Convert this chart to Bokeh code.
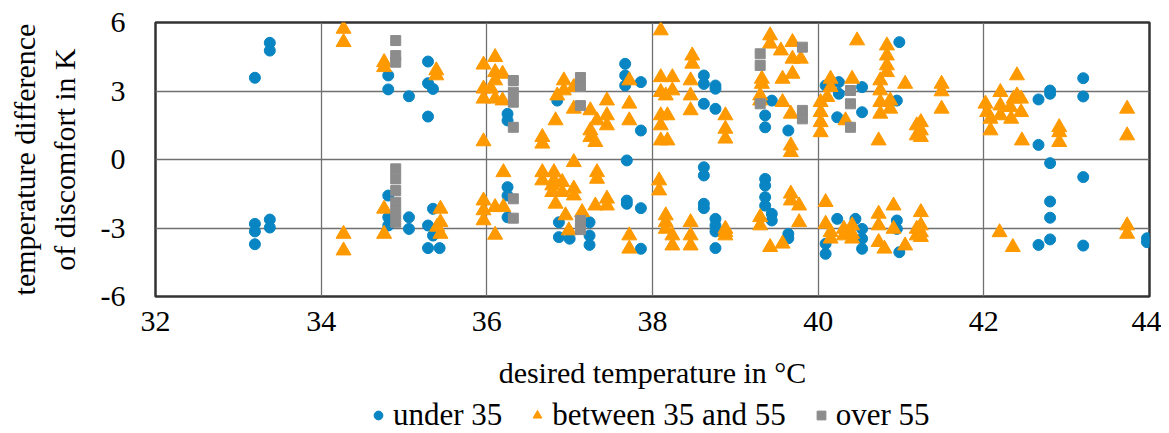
from bokeh.plotting import figure
from bokeh.layouts import column
from bokeh.models import FixedTicker, Legend, LegendItem, Range1d
from bokeh.embed import file_html
from bokeh.resources import INLINE

# ---------------- data ----------------
x_under = [33.38, 33.38, 33.2, 33.2, 33.2, 33.2, 33.38, 33.38,
           34.81, 34.81, 35.06, 35.29, 35.29, 35.35, 35.29,
           34.81, 34.81, 34.81, 35.06, 35.06, 35.29, 35.35, 35.29, 35.43, 35.35,
           36.25, 36.25, 36.25, 36.25, 36.25,
           37.67, 37.67, 37.67, 37.86, 37.86, 36.85, 38.62, 38.62, 38.76, 38.76, 38.62, 38.76,
           37.69, 38.62, 38.62, 37.69, 37.69, 37.86, 38.62, 38.62, 38.76, 38.76, 38.76, 38.76,
           37.86, 36.87, 36.87, 37.0, 37.24, 37.24, 37.24,
           39.44, 39.36, 39.36, 39.64, 40.09, 40.25, 40.25, 40.53, 40.53, 40.23, 40.95, 40.98,
           39.36, 39.36, 39.36, 39.36, 39.44, 39.44, 39.64, 39.64, 40.23, 40.45, 40.09, 40.09,
           40.53, 40.53, 40.53, 40.95, 40.95, 40.98,
           42.8, 42.8, 42.66, 42.66, 43.2, 43.2,
           42.8, 43.2, 42.8, 42.8, 42.8, 42.66, 43.2, 43.97, 43.97]
y_under = [5.11, 4.77, 3.58, -2.82, -3.15, -3.71, -2.63, -2.98,
           3.68, 3.07, 2.77, 4.29, 3.34, 3.09, 1.88,
           -1.58, -2.53, -2.89, -2.53, -3.04, -2.89, -3.33, -3.88, -3.88, -2.16,
           2.0, 1.71, -1.21, -1.58, -2.53,
           4.19, 3.68, 3.24, 3.39, 1.27, 2.58, 3.68, 3.31, 3.24, 3.1, 2.44, 2.22,
           -0.04, -0.34, -0.7, -1.8, -1.94, -2.13, -1.94, -2.13, -2.6, -2.89, -3.15, -3.88,
           -3.91, -2.75, -3.4, -3.47, -2.75, -3.33, -3.74,
           2.58, 1.93, 1.41, 1.27, 3.24, 3.39, 2.88, 3.17, 2.07, 1.85, 2.58, 5.14,
           -0.85, -1.14, -1.65, -2.02, -2.38, -2.67, -3.26, -3.45, -2.6, -2.6, -3.69, -4.13,
           -3.04, -3.47, -3.91, -2.67, -3.04, -4.06,
           3.02, 2.88, 2.63, 0.64, 3.56, 2.76,
           -0.16, -0.77, -1.84, -2.55, -3.5, -3.74, -3.77, -3.45, -3.62]

x_mid = [34.27, 34.27, 34.27, 34.27,
         34.76, 34.76, 35.39, 35.39,
         35.96, 36.1, 35.96, 35.96, 36.1, 36.1, 36.1, 36.19, 36.19, 36.05, 35.96,
         34.76, 34.76, 35.44, 35.44, 35.44, 35.4,
         35.96, 35.96, 35.96, 36.2, 36.1, 36.2, 36.1,
         36.93, 36.93, 36.85, 37.05, 37.05, 36.83, 36.67, 36.67, 37.25, 37.45, 37.45, 37.45,
         37.33, 37.25, 37.25, 37.31, 37.72, 37.72, 37.72, 38.1, 38.1, 38.24, 38.24, 38.1,
         38.16, 38.1, 38.18, 38.1, 38.1, 38.18, 38.48, 38.48, 38.46, 38.46, 38.46,
         38.88, 38.88, 38.88,
         36.67, 36.67, 36.81, 36.81, 36.91, 36.91, 36.79, 36.79, 37.05, 37.05, 37.05,
         36.83, 36.95, 36.99, 37.15, 37.33, 37.33, 37.31, 37.45, 37.45, 37.72, 37.72,
         38.08, 38.08, 38.16, 38.16, 38.16, 38.24, 38.24, 38.46, 38.46, 38.46, 38.88,
         39.42, 39.42, 39.55, 39.69, 39.69, 39.79, 39.69, 39.57, 39.32, 39.32, 39.3, 39.3,
         39.57, 39.67, 39.67, 39.67, 40.15, 40.15, 40.03, 40.03, 40.03, 40.03, 40.11,
         40.41, 40.47, 40.33, 40.83, 40.83, 40.83, 40.83, 40.75, 40.75, 40.75, 40.75,
         40.87, 40.87, 40.73, 41.05, 41.19, 41.19,
         39.67, 39.67, 39.77, 39.3, 39.3, 39.77, 39.42, 39.57, 38.88, 38.88,
         40.09, 40.09, 40.15, 40.15, 40.31, 40.31, 40.41, 40.41, 40.41, 40.73, 40.73,
         40.73, 40.8, 40.91, 40.91, 41.05, 41.19, 41.19,
         41.49, 41.49, 41.49, 41.24, 41.24, 41.24, 42.02, 42.04, 42.08, 42.08,
         42.2, 42.2, 42.2, 42.4, 42.36, 42.4, 42.45, 42.45, 42.33, 42.32, 42.46,
         42.91, 42.91, 42.91, 43.73, 43.73,
         41.24, 41.24, 41.24, 41.24, 42.19, 42.35, 43.73, 43.73]
y_mid = [5.72, 5.14, -3.26, -3.99,
         4.26, 4.04, 3.9, 3.68,
         4.15, 4.48, 3.1, 2.66, 3.82, 3.46, 2.66, 3.75, 2.58, 3.1, 0.79,
         -2.16, -3.26, -2.16, -2.75, -3.26, -2.95,
         -1.8, -2.23, -2.67, -0.56, -2.09, -2.09, -3.3,
         3.46, 3.02, 2.8, 3.17, 2.22, 1.71, 0.98, 0.69, 2.15, 2.58, 1.93, 1.49,
         1.71, 1.27, 0.98, 0.76, 3.46, 2.44, 1.71, 5.65, 3.6, 3.6, 3.02, 2.95,
         2.8, 1.93, 1.93, 1.49, 0.83, 0.83, 4.55, 4.19, 3.46, 2.8, 2.15,
         1.93, 1.34, 0.91,
         -0.56, -0.92, -0.56, -0.92, -0.99, -1.43, -1.14, -1.43, -0.12, -1.28, -1.58,
         -1.94, -2.45, -3.11, -2.31, -0.56, -0.85, -2.02, -1.72, -2.02, -3.33, -3.91,
         -0.92, -1.36, -2.45, -2.75, -3.04, -3.33, -3.77, -2.75, -3.33, -3.77, -3.19,
         5.43, 5.07, 4.77, 5.14, 4.41, 4.41, 3.75, 3.53, 3.53, 3.31, 2.8, 2.58,
         2.51, 2.0, 0.61, 0.32, 3.53, 3.17, 2.51, 2.07, 1.63, 1.19, 2.73,
         3.53, 5.21, 1.71, 4.99, 4.55, 4.12, 3.82, 3.46, 3.02, 2.51, 2.0,
         2.58, 2.22, 0.83, 3.31, 1.49, 1.05,
         -1.5, -1.8, -2.02, -2.53, -2.89, -2.75, -3.84, -3.69, -3.04, -3.33,
         -1.87, -2.82, -3.19, -3.47, -3.04, -3.33, -2.89, -3.26, -3.47, -2.38, -2.89,
         -3.62, -3.91, -2.02, -3.04, -3.77, -3.04, -3.33,
         3.31, 2.98, 2.22, 1.63, 1.27, 0.98, 2.44, 2.07, 1.78, 1.27,
         2.95, 2.36, 1.93, 3.68, 2.66, 2.8, 2.66, 2.07, 1.78, 2.29, 0.83,
         1.41, 1.19, 0.76, 2.22, 1.05,
         -2.31, -2.89, -3.19, -3.4, -3.19, -3.84, -2.89, -3.26]

x_over = [34.9, 34.9, 34.9, 34.9, 34.9, 34.9, 34.9, 34.9, 34.9,
          36.32, 36.32, 36.32, 36.32, 36.32, 36.32,
          37.13, 37.13, 37.13, 37.13, 37.13,
          39.3, 39.3, 39.81, 39.3, 39.81, 39.81, 40.39, 40.39, 40.39]
y_over = [5.21, 4.55, 4.26, -0.41, -0.85, -1.36, -1.87, -2.31, -2.75,
          3.46, 2.95, 2.51, 1.41, -1.72, -2.57,
          3.59, 3.2, 2.36, -2.67, -3.07,
          4.63, 4.12, 4.92, 2.44, 2.15, 1.78, 3.02, 2.44, 1.41]

series_names = ["under 35", "between 35 and 55", "over 55"]
x_ticks = [32, 34, 36, 38, 40, 42, 44]
y_ticks = [-6, -3, 0, 3, 6]

# ---------------- styles ----------------
FONT = "Liberation Serif"
FS = "30px"
C_U, C_M, C_O = "#0885C2", "#FF9900", "#8C8C8C"

# ---------------- main figure ----------------
p = figure(frame_width=994, frame_height=274,
           x_range=Range1d(32, 44), y_range=Range1d(-6, 6),
           output_backend="svg", toolbar_location=None,
           min_border_left=155, min_border_right=12,
           min_border_top=22, min_border_bottom=100,
           background_fill_color="white", border_fill_color="white")

p.outline_line_color = "#333333"
p.outline_line_width = 2.5

for ax in (p.xaxis[0], p.yaxis[0]):
    ax.axis_line_color = None
    ax.major_tick_line_color = None
    ax.minor_tick_line_color = None
    ax.major_label_text_font = FONT
    ax.major_label_text_font_size = FS
    ax.major_label_text_color = "black"
    ax.axis_label_text_font = FONT
    ax.axis_label_text_font_size = FS
    ax.axis_label_text_font_style = "normal"
    ax.axis_label_text_color = "black"

p.xaxis.ticker = FixedTicker(ticks=x_ticks)
p.yaxis.ticker = FixedTicker(ticks=y_ticks)
p.yaxis.major_label_overrides = {t: str(t) for t in y_ticks}
p.xaxis.major_label_overrides = {t: str(t) for t in x_ticks}
p.xaxis.major_label_standoff = 9
p.yaxis.major_label_standoff = 24
p.xaxis.axis_label = "desired temperature in °C"
p.xaxis.axis_label_standoff = 22
p.yaxis.axis_label = "temperature difference\nof discomfort in K"
p.yaxis.axis_label_standoff = 17

p.xgrid.ticker = FixedTicker(ticks=x_ticks)
p.ygrid.ticker = FixedTicker(ticks=y_ticks)
for g in (p.xgrid[0], p.ygrid[0]):
    g.grid_line_color = "#707070"
    g.grid_line_width = 1.3

p.scatter(x_under, y_under, marker="circle", size=11, fill_color=C_U, line_color=C_U)
p.scatter(x_mid, y_mid, marker="triangle", size=15, fill_color=C_M, line_color=C_M)
p.scatter(x_over, y_over, marker="square", size=10, fill_color=C_O, line_color=C_O)

# ---------------- legend strip (series drawn off-range, only the legend shows) ----------------
lg = figure(frame_width=994, frame_height=37,
            x_range=Range1d(0, 1), y_range=Range1d(0, 1),
            x_axis_type=None, y_axis_type=None,
            output_backend="svg", toolbar_location=None,
            min_border_left=155, min_border_right=12,
            min_border_top=0, min_border_bottom=0,
            background_fill_color="white", border_fill_color="white")
lg.outline_line_color = None
lg.grid.visible = False

l_u = lg.scatter(x_under, y_under, marker="circle", size=11, fill_color=C_U, line_color=C_U)
l_m = lg.scatter(x_mid, y_mid, marker="triangle", size=15, fill_color=C_M, line_color=C_M)
l_o = lg.scatter(x_over, y_over, marker="square", size=10, fill_color=C_O, line_color=C_O)

legend = Legend(items=[LegendItem(label=series_names[0], renderers=[l_u]),
                       LegendItem(label=series_names[1], renderers=[l_m]),
                       LegendItem(label=series_names[2], renderers=[l_o])],
                orientation="horizontal", location=(212, 0),
                label_text_font=FONT, label_text_font_size="31px",
                label_text_color="black",
                glyph_width=22, glyph_height=30, spacing=24,
                label_standoff=4, padding=0, margin=0,
                border_line_color=None, background_fill_alpha=0)
lg.add_layout(legend, "center")

open("out.html", "w").write(file_html(column(p, lg, spacing=0), INLINE))
